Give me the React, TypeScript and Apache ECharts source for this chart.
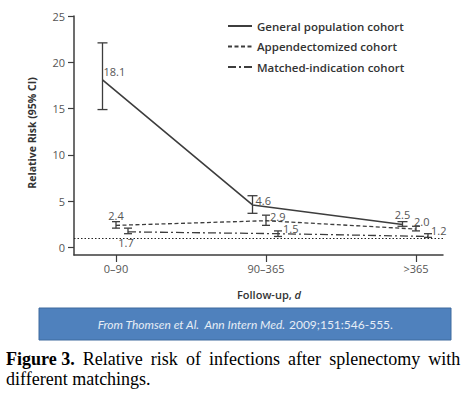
import React, { useEffect, useRef } from "react";
import * as echarts from "echarts";

// ---------- data ----------
const categories = ["0–90", "90–365", ">365"];
const seriesNames = ["General population cohort", "Appendectomized cohort", "Matched-indication cohort"];
const generalRR = [18.1, 4.6, 2.5];
const generalLow = [14.9, 3.7, 2.3];
const generalHigh = [22.1, 5.6, 2.8];
const appendRR = [2.4, 2.9, 2.0];
const appendLow = [2.1, 2.4, 1.8];
const appendHigh = [2.8, 3.5, 2.3];
const matchedRR = [1.7, 1.5, 1.2];
const matchedLow = [1.5, 1.2, 1.1];
const matchedHigh = [2.1, 1.8, 1.5];
const referenceRR = 1;
const yTicks = [0, 5, 10, 15, 20, 25];

// ---------- styles ----------
const xShift = [-0.09, 0, 0.08]; // horizontal dodge of the three cohorts
const lineColor = "#3d3d3d";
const labelSpecs = [
  [
    { position: "right", distance: 1, offset: [0, -8] },
    { position: "right", distance: 3, offset: [0, -4] },
    { position: "top", distance: 4, offset: [0, 0] },
  ],
  [
    { position: "top", distance: 4, offset: [0, 0] },
    { position: "right", distance: 4, offset: [0, -4] },
    { position: "right", distance: 0, offset: [-2, -8] },
  ],
  [
    { position: "bottom", distance: 5, offset: [-2, 0] },
    { position: "right", distance: 5, offset: [0, -5] },
    { position: "right", distance: 3, offset: [0, -6] },
  ],
];
const lineTypes: any[] = ["solid", [4, 2.5], [8, 3, 2, 3]];
const capHalf = [5, 4, 4];

const values = [generalRR, appendRR, matchedRR];
const lows = [generalLow, appendLow, matchedLow];
const highs = [generalHigh, appendHigh, matchedHigh];

export default function App() {
  const ref = useRef<HTMLDivElement>(null);
  useEffect(() => {
    if (!ref.current) return;
    const chart = echarts.init(ref.current, null, { renderer: "svg" });
    const labelFont = { fontFamily: "Open Sans", fontSize: 11, color: "#555", textBorderWidth: 0 };

    const lineSeries = values.map((vals, s) => ({
      type: "line",
      name: seriesNames[s],
      symbol: "circle",
      symbolSize: 0,
      showSymbol: true,
      z: 3,
      lineStyle: { color: lineColor, width: s === 0 ? 1.6 : 1.3, type: lineTypes[s] },
      itemStyle: { color: lineColor },
      data: vals.map((v, i) => ({
        value: [i + xShift[s], v],
        label: {
          show: true,
          position: labelSpecs[s][i].position,
          distance: labelSpecs[s][i].distance,
          offset: labelSpecs[s][i].offset,
          formatter: (p: any) => p.value[1].toFixed(1),
          ...labelFont,
        },
      })),
      markLine:
        s === 0
          ? {
              silent: true,
              symbol: "none",
              label: { show: false },
              lineStyle: { color: "#222", width: 1, type: [1.5, 2] },
              data: [{ yAxis: referenceRR }],
            }
          : undefined,
    }));

    const errSeries = values.map((vals, s) => ({
      type: "custom",
      name: seriesNames[s] + " CI",
      z: 4,
      data: vals.map((_, i) => [i + xShift[s], lows[s][i], highs[s][i]]),
      renderItem: (params: any, api: any) => {
        const x = api.value(0);
        const pLo = api.coord([x, api.value(1)]);
        const pHi = api.coord([x, api.value(2)]);
        const hw = capHalf[s];
        const style = { stroke: lineColor, lineWidth: 1.3, fill: "none" };
        return {
          type: "group",
          children: [
            { type: "line", shape: { x1: pLo[0], y1: pLo[1], x2: pHi[0], y2: pHi[1] }, style },
            { type: "line", shape: { x1: pLo[0] - hw, y1: pLo[1], x2: pLo[0] + hw, y2: pLo[1] }, style },
            { type: "line", shape: { x1: pHi[0] - hw, y1: pHi[1], x2: pHi[0] + hw, y2: pHi[1] }, style },
          ],
        };
      },
    }));

    const sp = "{s| }";
    const captionLine1 =
      "{b|Figure 3.}" + sp +
      ["Relative", "risk", "of", "infections", "after", "splenectomy", "with"]
        .map((w) => "{n|" + w + "}")
        .join(sp);

    chart.setOption({
      animation: false,
      backgroundColor: "#fff",
      grid: { left: 74, right: 24, top: 16, bottom: 138, containLabel: false, outerBoundsMode: "none" },
      legend: {
        data: seriesNames,
        orient: "vertical",
        left: 227,
        top: 20,
        padding: 0,
        itemWidth: 24,
        itemHeight: 14,
        itemGap: 8.5,
        itemStyle: { opacity: 0 },
        textStyle: { fontFamily: "Open Sans", fontWeight: 600, fontSize: 11.5, color: "#333" },
      },
      xAxis: {
        type: "value",
        min: -0.28,
        max: 2.18,
        name: "{b|Follow-up, }{i|d}",
        nameLocation: "middle",
        nameGap: 34,
        nameTextStyle: {
          padding: [0, 0, 0, 21],
          rich: {
            b: { fontFamily: "Open Sans", fontWeight: 600, fontSize: 11, color: "#333" },
            i: { fontFamily: "Open Sans", fontWeight: 600, fontStyle: "italic", fontSize: 11, color: "#333" },
          },
        },
        splitLine: { show: false },
        axisLine: { show: true, onZero: false, lineStyle: { color: lineColor, width: 1.5 } },
        axisTick: { show: true, customValues: [0, 1, 2], length: 7, lineStyle: { color: lineColor, width: 1.2 } },
        axisLabel: {
          customValues: [0, 1, 2],
          margin: 8,
          formatter: (v: number) => categories[Math.round(v)] ?? "",
          ...labelFont,
        },
      },
      yAxis: {
        type: "value",
        min: -0.8,
        max: 25,
        name: "Relative Risk (95% CI)",
        nameLocation: "middle",
        nameGap: 37,
        nameTextStyle: {
          fontFamily: "Open Sans",
          fontWeight: 700,
          fontSize: 10.5,
          color: "#333",
          padding: [0, 0, 0, 5],
        },
        splitLine: { show: false },
        axisLine: { show: true, onZero: false, lineStyle: { color: lineColor, width: 1.5 } },
        axisTick: { show: true, customValues: yTicks, length: 6, lineStyle: { color: lineColor, width: 1.2 } },
        axisLabel: { customValues: yTicks, margin: 9, ...labelFont },
      },
      graphic: [
        {
          type: "rect",
          shape: { x: 39, y: 308, width: 412, height: 32 },
          style: { fill: "#4f81bd", stroke: "#3f6a9e", lineWidth: 1 },
        },
        {
          type: "text",
          x: 245,
          y: 324,
          style: {
            text: "{i|From Thomsen et Al.  Ann Intern Med.} {n|2009;151:546-555.}",
            align: "center",
            verticalAlign: "middle",
            rich: {
              i: { fontFamily: "Lato", fontStyle: "italic", fontSize: 12, fill: "#e6edf6" },
              n: { fontFamily: "Lato", fontSize: 12, fill: "#e6edf6" },
            },
          },
        },
        {
          type: "text",
          x: 6,
          y: 359,
          style: {
            text: captionLine1,
            align: "left",
            verticalAlign: "middle",
            rich: {
              b: { fontFamily: "Liberation Serif", fontWeight: "bold", fontSize: 18, fill: "#000" },
              n: { fontFamily: "Liberation Serif", fontSize: 18, fill: "#000" },
              s: { fontFamily: "Liberation Serif", fontSize: 18, fill: "#000", width: 8.1 },
            },
          },
        },
        {
          type: "text",
          x: 6,
          y: 379,
          style: {
            text: "different matchings.",
            align: "left",
            verticalAlign: "middle",
            fontFamily: "Liberation Serif",
            fontSize: 18,
            fill: "#000",
          },
        },
      ],
      series: [...lineSeries, ...errSeries],
    });
    return () => chart.dispose();
  }, []);
  return <div ref={ref} style={{ position: "fixed", left: 0, top: 0, width: 467, height: 393 }} />;
}
